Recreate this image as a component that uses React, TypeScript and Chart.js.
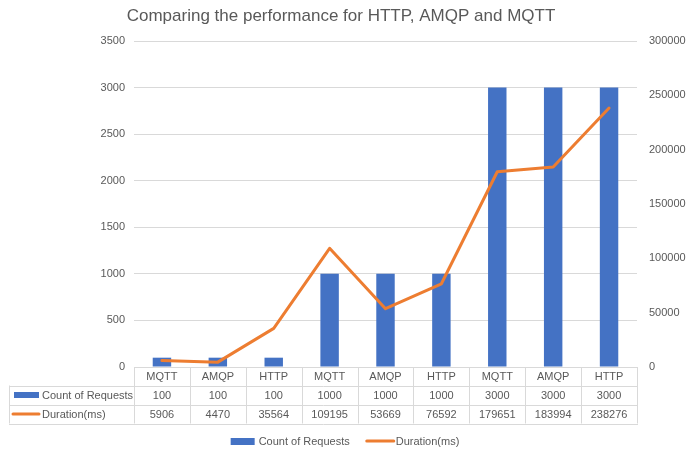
import React, { useEffect, useRef } from "react";
import { Chart, registerables } from "chart.js";

Chart.register(...registerables);

const categories = ["MQTT", "AMQP", "HTTP", "MQTT", "AMQP", "HTTP", "MQTT", "AMQP", "HTTP"];
const countOfRequests = [100, 100, 100, 1000, 1000, 1000, 3000, 3000, 3000];
const durationMs = [5906, 4470, 35564, 109195, 53669, 76592, 179651, 183994, 238276];
const titleText = "Comparing the performance for HTTP, AMQP and MQTT";
const countLabel = "Count of Requests";
const durationLabel = "Duration(ms)";

const BLUE = "#4472C4";
const ORANGE = "#ED7D31";
const TEXT = "#595959";
const GRID = "#D9D9D9";
const FONT = "Liberation Sans";

const tablePlugin = {
  id: "excelTable",
  afterDraw(chart: any) {
    const ctx = chart.ctx as CanvasRenderingContext2D;
    const area = chart.chartArea;
    const x = chart.scales.x;
    const n = categories.length;
    const catW = (area.right - area.left) / n;
    const r0 = area.bottom;
    const r1 = r0 + 18.5;
    const r2 = r1 + 19;
    const r3 = r2 + 19;
    const tableLeft = 9;
    ctx.save();
    ctx.strokeStyle = GRID;
    ctx.lineWidth = 1;
    ctx.beginPath();
    for (let i = 0; i <= n; i++) {
      const xx = Math.round(area.left + i * catW) + 0.5;
      ctx.moveTo(xx, r0);
      ctx.lineTo(xx, r3);
    }
    ctx.moveTo(tableLeft + 0.5, r1);
    ctx.lineTo(tableLeft + 0.5, r3);
    for (const yy of [r1, r2, r3]) {
      const y = Math.round(yy) + 0.5;
      ctx.moveTo(tableLeft, y);
      ctx.lineTo(Math.round(area.right) + 1, y);
    }
    ctx.stroke();

    ctx.fillStyle = TEXT;
    ctx.font = `11px "${FONT}"`;
    ctx.textAlign = "center";
    ctx.textBaseline = "middle";
    for (let i = 0; i < n; i++) {
      const cx = x.getPixelForValue(i);
      ctx.fillText(categories[i], cx, (r0 + r1) / 2 + 1);
      ctx.fillText(String(countOfRequests[i]), cx, (r1 + r2) / 2 + 1);
      ctx.fillText(String(durationMs[i]), cx, (r2 + r3) / 2 + 1);
    }
    // row headers
    ctx.textAlign = "left";
    ctx.fillStyle = BLUE;
    ctx.fillRect(14, (r1 + r2) / 2 - 3, 25, 6);
    ctx.strokeStyle = ORANGE;
    ctx.lineWidth = 3;
    ctx.lineCap = "round";
    ctx.beginPath();
    ctx.moveTo(13, (r2 + r3) / 2);
    ctx.lineTo(39, (r2 + r3) / 2);
    ctx.stroke();
    ctx.fillStyle = TEXT;
    ctx.fillText(countLabel, 42, (r1 + r2) / 2 + 1);
    ctx.fillText(durationLabel, 42, (r2 + r3) / 2 + 1);

    // legend
    const ly = 441;
    const w1 = ctx.measureText(countLabel).width;
    const w2 = ctx.measureText(durationLabel).width;
    const total = 24 + 4 + w1 + 17 + 27 + 2 + w2;
    let lx = chart.width / 2 - total / 2;
    ctx.fillStyle = BLUE;
    ctx.fillRect(lx, ly - 3, 24, 7);
    lx += 28;
    ctx.fillStyle = TEXT;
    ctx.fillText(countLabel, lx, ly + 1);
    lx += w1 + 17;
    ctx.strokeStyle = ORANGE;
    ctx.beginPath();
    ctx.moveTo(lx, ly);
    ctx.lineTo(lx + 27, ly);
    ctx.stroke();
    lx += 29;
    ctx.fillText(durationLabel, lx, ly + 1);

    // title
    ctx.font = `17px "${FONT}"`;
    ctx.textAlign = "center";
    ctx.fillText(titleText, 341, 16);
    ctx.restore();
  },
};

export default function App() {
  const ref = useRef<HTMLCanvasElement>(null);
  useEffect(() => {
    if (!ref.current) return;
    const chart = new Chart(ref.current, {
      type: "bar",
      data: {
        labels: categories,
        datasets: [
          {
            type: "line",
            label: durationLabel,
            data: durationMs,
            yAxisID: "y1",
            borderColor: ORANGE,
            backgroundColor: ORANGE,
            borderWidth: 3,
            pointRadius: 0,
            tension: 0,
            borderCapStyle: "round",
            borderJoinStyle: "round",
            order: 0,
          } as any,
          {
            type: "bar",
            label: countLabel,
            data: countOfRequests,
            yAxisID: "y",
            backgroundColor: BLUE,
            categoryPercentage: 1,
            barPercentage: 0.33,
            order: 1,
          },
        ],
      },
      options: {
        animation: false,
        responsive: false,
        devicePixelRatio: 1,
        layout: { padding: { top: 41, left: 0, right: 0, bottom: 87 } },
        plugins: {
          legend: { display: false },
          title: { display: false },
          tooltip: { enabled: false },
        },
        scales: {
          x: { display: false },
          y: {
            position: "left",
            min: 0,
            max: 3500,
            ticks: {
              stepSize: 500,
              color: TEXT,
              padding: 9,
              font: { family: FONT, size: 11 },
              callback: (v: any) => String(v),
            },
            grid: { color: GRID, drawTicks: false },
            border: { display: false },
            afterFit: (s: any) => {
              s.width = 134;
            },
          },
          y1: {
            position: "right",
            min: 0,
            max: 300000,
            ticks: {
              stepSize: 50000,
              color: TEXT,
              padding: 12,
              font: { family: FONT, size: 11 },
              callback: (v: any) => String(v),
            },
            grid: { display: false, drawTicks: false },
            border: { display: false },
            afterFit: (s: any) => {
              s.width = 53;
            },
          },
        },
      },
      plugins: [tablePlugin],
    });
    return () => chart.destroy();
  }, []);
  return (
    <div style={{ position: "absolute", left: 0, top: 0, width: 690, height: 454, background: "#fff" }}>
      <canvas ref={ref} width={690} height={454} style={{ display: "block" }} />
    </div>
  );
}
